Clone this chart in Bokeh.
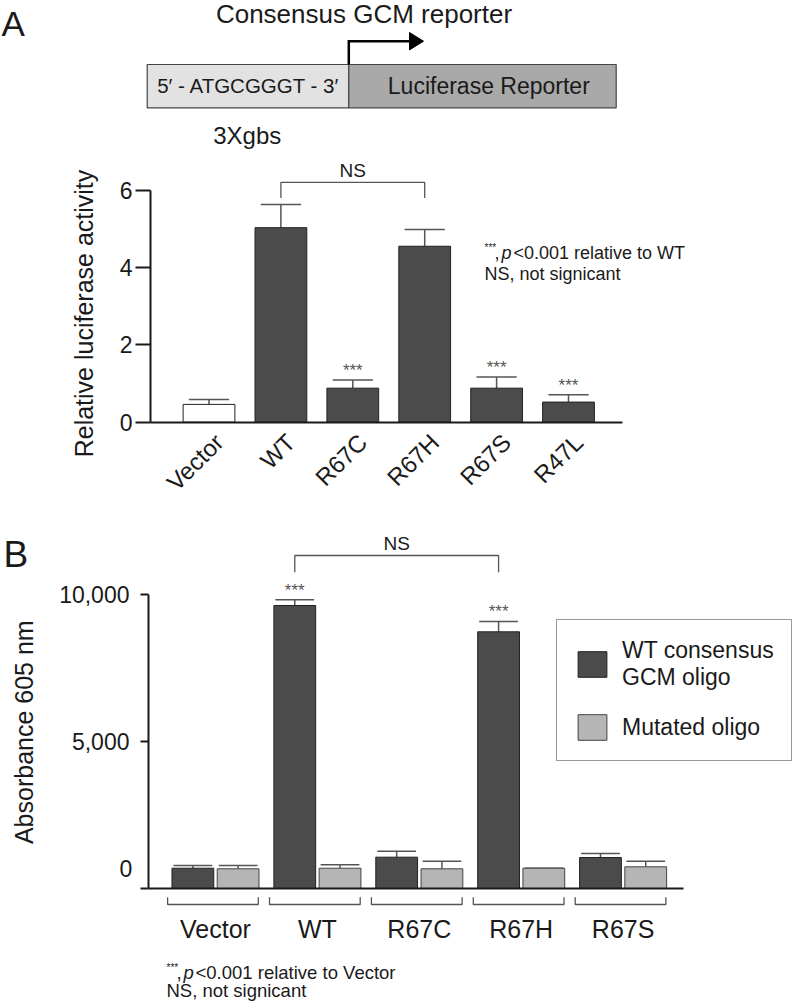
import math
from bokeh.plotting import figure
from bokeh.models import (ColumnDataSource, Range1d, FixedTicker, NumeralTickFormatter,
                          Legend, LegendItem)
from bokeh.layouts import column
from bokeh.transform import dodge
from bokeh.core.properties import value
from bokeh.embed import file_html
from bokeh.resources import INLINE

FONT = "Liberation Sans"
INK = "#1a1a1a"
DARK = "#4b4b4b"
LIGHT = "#b5b5b5"
GREY = "#555555"

# ---------------- data ----------------
a_cats = ["Vector", "WT", "R67C", "R67H", "R67S", "R47L"]
a_means = [0.46, 5.03, 0.88, 4.55, 0.88, 0.52]
a_errs = [0.13, 0.60, 0.21, 0.43, 0.29, 0.19]
a_sig = ["", "", "***", "", "***", "***"]
a_fill = ["white", DARK, DARK, DARK, DARK, DARK]
a_ticks = [0, 2, 4, 6]

b_groups = ["Vector", "WT", "R67C", "R67H", "R67S"]
b_wt = [690, 9626, 1065, 8731, 1054]
b_wt_err = [92, 194, 204, 351, 136]
b_mut = [670, 690, 670, 690, 738]
b_mut_err = [112, 116, 259, 0, 191]
b_sig = ["", "***", "", "***", ""]
b_ticks = [0, 5000, 10000]
series_names = ["WT consensus\nGCM oligo", "Mutated oligo"]

W = 794


def txt(fig, x, y, s, size, align="left", baseline="middle", **kw):
    fig.text(x=[x], y=[y], text=[s], text_font=value(FONT), text_font_size=size,
             text_color=kw.pop("color", INK), text_align=align,
             text_baseline=baseline, **kw)


def base_fig(h, xr, yr):
    f = figure(width=W, height=h, x_range=Range1d(*xr), y_range=Range1d(*yr),
               output_backend="svg", toolbar_location=None, min_border=0,
               min_border_left=0, min_border_right=0, min_border_top=0,
               min_border_bottom=0, outline_line_color=None)
    f.grid.visible = False
    return f


# ---------------- top diagram (pixel-like frame) ----------------
fd = figure(width=W, height=150, x_range=Range1d(0, 794), y_range=Range1d(150, 0),
            x_axis_location=None, y_axis_location=None, output_backend="svg",
            toolbar_location=None, min_border=0, outline_line_color=None)
fd.grid.visible = False
fd.quad(left=[146.7], right=[348.3], top=[64], bottom=[107.3],
        fill_color="#e2e2e2", line_color="#444", line_width=1.2)
fd.quad(left=[348.3], right=[615.7], top=[64], bottom=[107.3],
        fill_color="#a9a9a9", line_color="#444", line_width=1.2)
fd.line(x=[348.3, 348.3, 411], y=[64, 40.7, 40.7], line_color="black",
        line_width=2.5, line_join="miter")
fd.patch(x=[409, 423, 409], y=[32, 40.7, 49.4], color="black")
txt(fd, 1, 23, "A", "35px")
txt(fd, 363.5, 13, "Consensus GCM reporter", "26px", align="center")
txt(fd, 248, 85, "5\u2032 - ATGCGGGT - 3\u2032", "20.5px", align="center")
txt(fd, 488.3, 85.5, "Luciferase Reporter", "23px", align="center")
txt(fd, 246.7, 135, "3Xgbs", "24px", align="center")

# ---------------- panel A ----------------
xa = list(range(len(a_cats)))
src_a = ColumnDataSource(dict(
    x=xa, top=a_means, etop=[m + e for m, e in zip(a_means, a_errs)],
    cl=[x - 0.28 for x in xa], cr=[x + 0.28 for x in xa],
    sig=a_sig, fill=a_fill))

A_X0, A_X1 = -0.8136, 5.747
fa = base_fig(350, (-2.8999, 8.1433), (-2.025, 7.026))
fa.segment(x0="x", y0="top", x1="x", y1="etop", source=src_a, line_color=GREY, line_width=1.5)
fa.segment(x0="cl", y0="etop", x1="cr", y1="etop", source=src_a, line_color=GREY, line_width=1.5)
fa.vbar(x="x", top="top", bottom=0, width=0.72, source=src_a, fill_color="fill",
        line_color="#222", line_width=1)
fa.text(x="x", y="etop", text="sig", source=src_a, text_font=value(FONT),
        text_font_size="17px", text_color=GREY, text_align="center",
        text_baseline="bottom", y_offset=0)

i_wt, i_h = a_cats.index("WT"), a_cats.index("R67H")
fa.line(x=[i_wt, i_wt, i_h, i_h], y=[5.8, 6.2, 6.2, 5.8], line_color=GREY, line_width=1.3)
txt(fa, (i_wt + i_h) / 2, 6.52, "NS", "19px", align="center")
# note
NX = 3.832
txt(fa, NX, 4.53, "***", "10px")
txt(fa, NX, 4.38, ",", "18px", x_offset=10)
txt(fa, NX, 4.38, "p", "18px", x_offset=17, text_font_style="italic")
txt(fa, NX, 4.38, "<0.001 relative to WT", "18px", x_offset=29)
txt(fa, NX, 3.82, "NS, not signicant", "18px")
# y axis title
txt(fa, -1.741, 2.811, "Relative luciferase activity", "25px", align="center",
    angle=math.pi / 2)

LBL_SHIFT = 0.14
fa.xaxis.fixed_location = 0
fa.xaxis.ticker = FixedTicker(ticks=[x + LBL_SHIFT for x in xa])
fa.xaxis.major_label_overrides = {x + LBL_SHIFT: c for x, c in zip(xa, a_cats)}
fa.xaxis.major_label_orientation = math.pi / 4
fa.xaxis.bounds = (A_X0, A_X1)
fa.xaxis.major_tick_line_color = None
fa.xaxis.minor_tick_line_color = None
fa.xaxis.major_label_standoff = 10
fa.xaxis.major_label_text_font_size = "24px"

fa.yaxis.fixed_location = A_X0
fa.yaxis.ticker = FixedTicker(ticks=a_ticks)
fa.yaxis.bounds = (0, 6)
fa.yaxis.major_tick_out = 15
fa.yaxis.major_tick_in = 0
fa.yaxis.major_label_standoff = 3
fa.yaxis.major_label_text_font_size = "23px"
fa.yaxis.minor_tick_line_color = None
fa.yaxis.major_tick_line_color = INK
for ax in (fa.xaxis, fa.yaxis):
    ax.axis_line_width = 2
    ax.axis_line_color = INK
    ax.major_tick_line_width = 2
    ax.major_label_text_font = FONT
    ax.major_label_text_color = INK

# ---------------- panel B ----------------
xb = list(range(len(b_groups)))
src_b = ColumnDataSource(dict(
    x=xb, wt=b_wt, mut=b_mut,
    wt_e=[v + e for v, e in zip(b_wt, b_wt_err)],
    mut_e=[v + e for v, e in zip(b_mut, b_mut_err)],
    sig=b_sig))
OFF = 0.222
BW = 0.41
CAP = 0.19
B_X0, B_X1 = -0.6575, 4.59

fb = base_fig(502, (-2.1099, 5.682), (-3877.6, 13197))

for off, top, et in ((-OFF, "wt", "wt_e"), (OFF, "mut", "mut_e")):
    fb.segment(x0=dodge("x", off), y0=top, x1=dodge("x", off), y1=et, source=src_b,
               line_color=GREY, line_width=1.5)
    fb.segment(x0=dodge("x", off - CAP), y0=et, x1=dodge("x", off + CAP), y1=et,
               source=src_b, line_color=GREY, line_width=1.5)
r_wt = fb.vbar(x=dodge("x", -OFF), top="wt", bottom=0, width=BW, source=src_b,
               fill_color=DARK, line_color="#222", line_width=1)
r_mut = fb.vbar(x=dodge("x", OFF), top="mut", bottom=0, width=BW, source=src_b,
                fill_color=LIGHT, line_color="#444", line_width=1)
fb.text(x=dodge("x", -OFF), y="wt_e", text="sig", source=src_b, text_font=value(FONT),
        text_font_size="17px", text_color=GREY, text_align="center",
        text_baseline="bottom", y_offset=0)

j_wt, j_h = b_groups.index("WT"), b_groups.index("R67H")
fb.line(x=[j_wt - OFF, j_wt - OFF, j_h - OFF, j_h - OFF], y=[10758, 11327, 11327, 10758],
        line_color=GREY, line_width=1.3)
txt(fb, (j_wt + j_h) / 2 - OFF, 11745, "NS", "19px", align="center")

# group brackets and names
fb.multi_line(xs=[[g - 0.47, g - 0.47, g + 0.42, g + 0.42] for g in xb],
              ys=[[-296, -544, -544, -296] for _ in xb], line_color=GREY, line_width=1.3)
fb.text(x=xb, y=[-1371] * len(xb), text=b_groups, text_font=value(FONT),
        text_font_size="25px", text_color=INK, text_align="center", text_baseline="middle")

# footnote
FX = -0.481
txt(fb, FX, -2700, "***", "10px")
txt(fb, FX, -2847, ",", "18.5px", x_offset=10)
txt(fb, FX, -2847, "p", "18.5px", x_offset=17, text_font_style="italic")
txt(fb, FX, -2847, "<0.001 relative to Vector", "18.5px", x_offset=29)
txt(fb, FX, -3480, "NS, not signicant", "18.5px")

# panel letter, y title and the raised zero label
txt(fb, -2.08, 11361, "B", "37px")
txt(fb, -1.881, 5316, "Absorbance 605 nm", "25px", align="center", angle=math.pi / 2)
txt(fb, -0.8175, 680, "0", "23px", align="right")

fb.xaxis.fixed_location = 0
fb.xaxis.ticker = FixedTicker(ticks=[])
fb.xaxis.bounds = (B_X0, B_X1)
fb.xaxis.major_tick_line_color = None
fb.xaxis.minor_tick_line_color = None

fb.yaxis.fixed_location = B_X0
fb.yaxis.ticker = FixedTicker(ticks=b_ticks)
fb.yaxis.formatter = NumeralTickFormatter(format="0,0")
fb.yaxis.major_label_overrides = {0: ""}
fb.yaxis.bounds = (0, 10000)
fb.yaxis.major_tick_out = 8
fb.yaxis.major_tick_in = 0
fb.yaxis.major_label_standoff = 11
fb.yaxis.minor_tick_line_color = None
fb.yaxis.major_label_text_font_size = "23px"
fb.yaxis.major_tick_line_color = INK
for ax in (fb.xaxis, fb.yaxis):
    ax.axis_line_width = 2
    ax.axis_line_color = INK
    ax.major_tick_line_width = 2
    ax.major_label_text_font = FONT
    ax.major_label_text_color = INK

legend = Legend(items=[LegendItem(label=series_names[0], renderers=[r_wt]),
                       LegendItem(label=series_names[1], renderers=[r_mut])],
                location=(556, 241), padding=17, spacing=20, margin=0,
                glyph_width=36, glyph_height=32, label_standoff=12,
                label_text_font=FONT, label_text_font_size="23px",
                label_text_line_height=1.16, label_text_color=INK,
                border_line_color="#333", border_line_width=1.5,
                background_fill_color="white", background_fill_alpha=1)
fb.add_layout(legend)

page = column(fd, fa, fb, spacing=0)
open("out.html", "w").write(file_html(page, INLINE))
